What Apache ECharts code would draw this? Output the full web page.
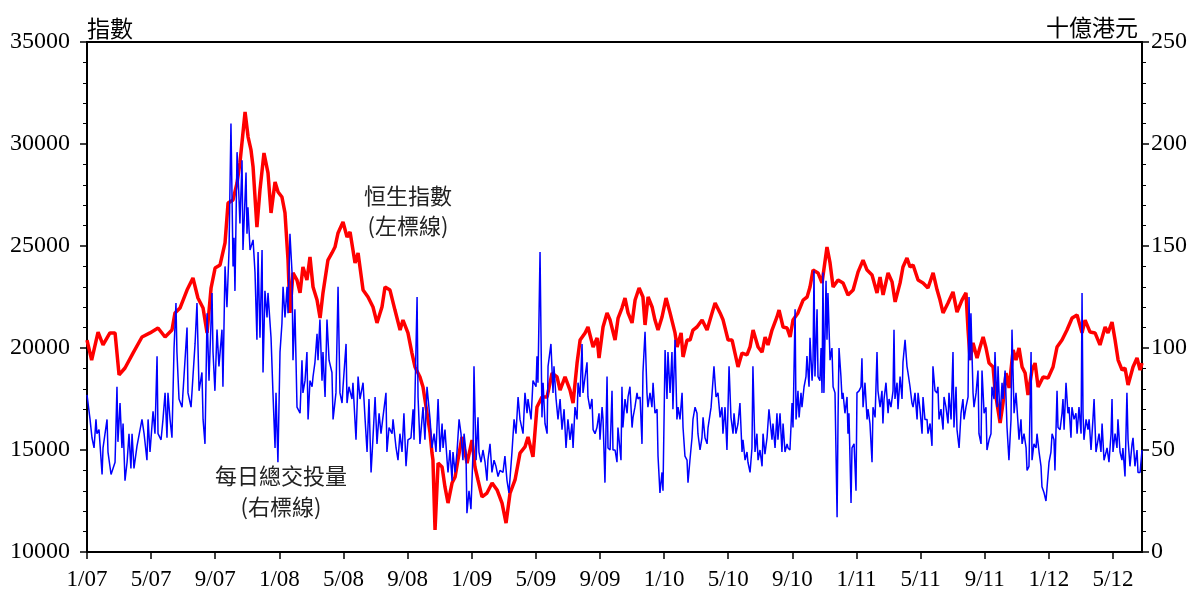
<!DOCTYPE html>
<html>
<head>
<meta charset="utf-8">
<script src="https://cdn.jsdelivr.net/npm/echarts@6/dist/echarts.min.js"></script>
<style>
  html, body { margin: 0; padding: 0; background: #fff; }
  #chart { width: 1196px; height: 595px; }
</style>
</head>
<body>
<div id="chart"></div>
<script>
// x values are months since 1 Jan 2007

// 恒生指數 (left axis)
const hsiMonths = [0,0.29,0.69,1.0,1.43,1.75,2.0,2.37,2.87,3.43,3.93,4.43,4.87,5.3,5.49,5.8,6.24,6.61,6.92,7.24,7.49,7.74,7.99,8.3,8.61,8.8,9.11,9.36,9.54,9.86,10.05,10.23,10.36,10.6,10.79,11.04,11.29,11.48,11.73,11.92,12.16,12.35,12.54,12.66,12.85,13.1,13.29,13.47,13.72,13.91,14.1,14.35,14.54,14.72,15.03,15.28,15.47,15.66,15.97,16.22,16.41,16.72,16.91,17.22,17.53,17.84,18.09,18.4,18.59,18.9,19.21,19.53,19.71,20.02,20.27,20.46,20.77,20.96,21.21,21.4,21.52,21.58,21.71,21.9,22.15,22.33,22.52,22.77,22.96,23.14,23.39,23.71,24.02,24.2,24.39,24.64,24.95,25.27,25.58,25.89,26.14,26.39,26.7,27.01,27.32,27.51,27.82,28.07,28.38,28.7,29.01,29.32,29.51,29.82,30.13,30.32,30.57,30.76,31.07,31.25,31.57,31.82,31.94,32.19,32.44,32.63,32.94,33.13,33.37,33.56,33.75,34.0,34.19,34.44,34.68,34.81,35.0,35.25,35.43,35.62,35.87,36.12,36.37,36.68,36.81,37.06,37.18,37.43,37.62,37.8,38.05,38.37,38.68,38.99,39.18,39.49,39.68,39.99,40.24,40.42,40.61,40.86,41.17,41.36,41.55,41.86,42.11,42.3,42.48,42.73,43.04,43.17,43.42,43.67,43.86,44.04,44.35,44.67,44.92,45.1,45.29,45.6,45.85,46.16,46.35,46.54,46.85,47.16,47.47,47.79,48.1,48.41,48.66,48.97,49.28,49.47,49.66,49.97,50.22,50.41,50.72,50.9,51.15,51.34,51.53,51.84,52.15,52.46,52.78,53.03,53.21,53.4,53.71,54.02,54.27,54.58,54.83,54.96,55.09,55.27,55.52,55.71,55.9,56.08,56.27,56.52,56.64,56.83,56.96,57.14,57.33,57.52,57.77,57.95,58.14,58.33,58.52,58.7,58.95,59.14,59.33,59.64,59.95,60.26,60.51,60.82,61.13,61.45,61.76,62.07,62.26,62.57,62.88,63.19,63.51,63.69,63.94,64.13,64.32,64.57,64.75,64.94,65.25,65.5,65.69,65.81];
const hsiValues = [20390,19410,20780,20150,20740,20740,18680,19020,19750,20540,20740,20980,20540,20880,21720,21960,22840,23430,22450,21960,20740,22940,23920,24070,25150,27110,27260,28090,29070,31570,30340,29710,28870,25930,27750,29560,28580,26620,28140,27650,27400,26620,24310,21720,23680,23330,22700,23970,23330,24460,22990,22350,21470,22700,24310,24660,24950,25640,26180,25440,25690,24170,24660,22840,22500,22010,21230,22010,22990,22840,21860,20880,21370,20740,19750,19070,18580,18090,16810,15830,14850,14510,11080,14360,14170,13190,12400,13380,13680,14510,15640,14360,15490,14170,13530,12700,12890,13380,13040,12400,11420,12890,13530,14850,15150,15640,14660,17110,17600,17600,18770,18580,17940,18580,17940,17300,19260,20390,20740,21030,20050,20490,19510,21030,21720,21370,20390,21470,21960,22450,21720,21230,22350,22940,22500,21130,22500,22010,21370,20880,21520,22450,21720,20740,20050,20740,19560,20390,20390,20880,21030,21370,20880,21720,22210,21720,21370,20390,20390,19750,19070,19750,19660,20050,20880,20050,19800,20540,20150,20880,21520,21860,21030,20980,20540,21370,21720,22350,22500,22990,23820,23680,23190,24950,24170,22990,23330,23190,22600,22840,23730,24310,23820,23580,22700,23480,22600,23680,23240,22260,23190,23970,24410,23970,24070,23330,23190,22940,23680,22840,22350,21720,22210,22750,21760,22350,22700,20880,19410,20250,19510,20050,20540,20000,19260,19070,17940,16960,16320,17300,18770,18040,19900,19410,20000,19070,18770,17700,18920,19260,18090,18580,18530,19070,20050,20390,20880,21470,21620,20740,21370,20780,20740,20150,21030,20740,21270,20390,19410,18920,19020,18190,19070,19510,18920,19260];

// 每日總交投量, 十億港元 (right axis)
const turnoverMonths = [0,0.19,0.31,0.44,0.56,0.62,0.75,0.94,1.0,1.25,1.31,1.5,1.62,1.75,1.87,1.93,2.06,2.18,2.25,2.37,2.5,2.62,2.74,2.81,2.93,3.12,3.31,3.43,3.56,3.74,3.81,3.93,4.12,4.24,4.37,4.43,4.62,4.74,4.87,4.99,5.05,5.18,5.3,5.43,5.55,5.61,5.74,5.93,6.05,6.24,6.3,6.49,6.61,6.74,6.86,6.99,7.17,7.24,7.36,7.49,7.61,7.8,7.86,7.98,8.11,8.23,8.42,8.48,8.61,8.73,8.86,8.98,9.11,9.17,9.23,9.36,9.42,9.54,9.67,9.73,9.92,9.98,10.04,10.17,10.36,10.48,10.6,10.67,10.79,10.92,10.98,11.1,11.23,11.29,11.48,11.6,11.73,11.79,11.91,12.04,12.16,12.23,12.35,12.48,12.54,12.66,12.79,12.85,12.97,13.1,13.29,13.41,13.47,13.6,13.72,13.79,13.91,14.04,14.1,14.22,14.35,14.41,14.53,14.66,14.72,14.85,14.97,15.1,15.28,15.35,15.53,15.66,15.78,15.91,15.97,16.16,16.22,16.34,16.53,16.59,16.78,16.91,17.03,17.22,17.34,17.47,17.59,17.72,17.84,17.97,18.09,18.22,18.34,18.46,18.65,18.71,18.84,19.03,19.09,19.28,19.4,19.52,19.65,19.77,19.9,20.02,20.21,20.34,20.4,20.59,20.65,20.77,20.96,21.08,21.21,21.4,21.52,21.65,21.77,21.9,22.02,22.15,22.21,22.33,22.46,22.52,22.64,22.77,22.83,22.96,23.08,23.21,23.33,23.45,23.52,23.64,23.7,23.83,23.95,24.08,24.14,24.27,24.39,24.45,24.58,24.7,24.83,24.95,25.01,25.14,25.26,25.39,25.51,25.64,25.76,25.95,26.07,26.2,26.32,26.51,26.64,26.76,26.89,27.01,27.2,27.32,27.45,27.51,27.7,27.82,28.01,28.07,28.13,28.26,28.38,28.45,28.57,28.7,28.76,28.94,29.07,29.13,29.26,29.38,29.51,29.63,29.76,29.88,30.0,30.13,30.25,30.32,30.44,30.57,30.63,30.75,30.88,30.94,31.07,31.19,31.25,31.38,31.5,31.57,31.69,31.81,31.94,32.0,32.13,32.19,32.31,32.44,32.5,32.63,32.75,32.81,32.94,33.06,33.12,33.31,33.37,33.43,33.56,33.69,33.75,33.87,34.0,34.06,34.18,34.31,34.37,34.5,34.62,34.68,34.81,34.93,34.99,35.12,35.24,35.31,35.43,35.56,35.62,35.74,35.87,35.93,36.06,36.18,36.24,36.37,36.49,36.55,36.68,36.8,36.87,36.99,37.12,37.18,37.3,37.43,37.49,37.61,37.74,37.8,37.93,38.05,38.11,38.24,38.36,38.43,38.55,38.68,38.74,38.93,39.05,39.11,39.24,39.36,39.49,39.61,39.67,39.8,39.92,40.05,40.17,40.3,40.36,40.48,40.61,40.73,40.86,40.92,41.05,41.17,41.23,41.36,41.48,41.54,41.67,41.79,41.86,41.98,42.11,42.17,42.29,42.42,42.54,42.73,42.79,42.92,43.04,43.1,43.23,43.35,43.42,43.54,43.67,43.73,43.85,43.98,44.04,44.17,44.23,44.35,44.42,44.54,44.6,44.73,44.85,44.91,45.04,45.1,45.23,45.29,45.35,45.41,45.54,45.6,45.72,45.79,45.85,45.91,45.97,46.1,46.16,46.22,46.35,46.47,46.54,46.66,46.79,46.85,46.91,47.03,47.1,47.16,47.28,47.41,47.47,47.53,47.66,47.72,47.85,47.97,48.03,48.16,48.28,48.34,48.41,48.53,48.66,48.72,48.84,48.97,49.03,49.16,49.28,49.34,49.47,49.59,49.65,49.72,49.84,49.97,50.03,50.15,50.28,50.34,50.4,50.53,50.59,50.72,50.84,50.9,51.03,51.15,51.21,51.34,51.46,51.53,51.65,51.78,51.84,51.96,52.09,52.15,52.27,52.4,52.46,52.59,52.71,52.77,52.9,53.02,53.08,53.15,53.27,53.4,53.46,53.58,53.71,53.77,53.9,54.02,54.08,54.21,54.27,54.4,54.52,54.64,54.71,54.83,54.96,55.02,55.08,55.14,55.27,55.33,55.46,55.58,55.64,55.77,55.83,55.96,56.08,56.14,56.27,56.39,56.45,56.58,56.64,56.77,56.83,56.95,57.08,57.14,57.27,57.39,57.51,57.64,57.7,57.83,57.95,58.01,58.14,58.26,58.33,58.45,58.58,58.64,58.76,58.89,58.95,59.07,59.2,59.26,59.39,59.51,59.57,59.7,59.82,59.89,60.01,60.13,60.2,60.32,60.38,60.51,60.57,60.7,60.82,60.88,60.95,61.07,61.19,61.26,61.38,61.44,61.57,61.69,61.76,61.88,62.01,62.07,62.13,62.19,62.32,62.44,62.51,62.63,62.75,62.82,62.94,63.13,63.25,63.32,63.44,63.57,63.63,63.75,63.88,63.94,64.0,64.13,64.25,64.31,64.44,64.56,64.62,64.75,64.87,64.94,65.06,65.19,65.25,65.37,65.5,65.56,65.69,65.81];
const turnoverValues = [77,65,56,51,65,58,60,38,51,65,49,38,38,44,81,54,73,51,63,35,44,58,41,58,41,52,60,65,58,45,65,49,69,58,96,58,55,65,78,56,78,65,56,100,122,98,75,71,86,110,78,71,86,102,122,79,88,65,53,117,84,127,98,79,109,91,109,81,140,120,148,210,140,154,128,196,186,161,192,148,186,156,169,148,153,137,104,147,105,148,88,128,115,127,105,78,51,78,44,98,112,130,115,130,117,156,137,94,119,71,68,94,78,84,98,65,84,81,86,93,107,94,114,84,98,76,114,94,88,65,78,130,78,73,81,102,73,81,75,83,55,86,75,83,66,49,75,39,56,76,53,68,58,66,78,49,61,58,65,51,45,58,49,68,42,55,56,70,55,125,76,53,71,55,81,65,51,58,49,75,49,63,51,60,45,39,50,35,49,39,49,65,58,45,58,49,19,30,21,49,91,45,66,49,44,50,44,35,45,53,39,45,42,37,40,39,47,35,29,49,65,58,76,65,58,78,68,75,65,84,81,96,83,147,66,83,63,58,91,102,78,91,75,65,75,60,70,51,65,55,63,51,71,65,83,76,102,78,86,93,76,70,75,60,58,61,68,55,71,65,34,86,51,50,79,50,50,44,61,45,81,61,75,68,76,81,61,66,71,78,75,76,53,88,108,78,71,78,71,83,68,70,47,29,39,30,99,75,98,78,98,70,104,65,71,65,78,61,47,45,34,45,56,65,71,68,58,50,56,66,56,53,61,71,71,91,76,78,66,71,58,71,50,91,66,58,68,58,63,73,49,55,45,49,44,39,51,91,49,58,45,50,42,58,48,56,70,55,63,51,68,55,68,49,63,49,53,51,50,73,61,119,65,79,66,78,71,81,86,96,81,105,84,94,138,86,119,86,84,100,78,137,78,133,104,127,94,100,81,78,17,66,100,86,75,78,68,76,58,68,24,51,53,30,78,79,81,95,71,83,65,70,63,44,71,66,98,79,71,79,63,75,83,68,75,71,79,109,75,83,70,86,75,93,104,91,88,81,73,71,78,65,78,70,58,76,65,65,58,63,52,91,79,78,81,65,70,60,76,71,63,78,65,98,61,81,60,51,68,75,65,71,76,125,94,117,78,71,78,89,58,53,89,68,71,50,55,58,81,75,98,71,91,65,83,75,89,61,45,65,109,68,78,71,55,65,53,58,51,40,42,98,45,53,51,58,49,42,32,29,25,32,44,49,58,55,40,79,61,60,68,75,60,83,68,71,56,71,65,68,58,71,58,127,68,55,65,60,65,50,65,75,49,58,49,63,45,49,51,44,58,75,49,58,51,65,49,45,51,37,78,55,42,53,56,42,50,39,39,50];

const xTickMonths = [0, 4, 8, 12, 16, 20, 24, 28, 32, 36, 40, 44, 48, 52, 56, 60, 64];
const xTickLabels = ['1/07', '5/07', '9/07', '1/08', '5/08', '9/08', '1/09', '5/09', '9/09', '1/10', '5/10', '9/10', '1/11', '5/11', '9/11', '1/12', '5/12'];

const numFont = '"Liberation Serif", "Times New Roman", serif';
const cjkFont = '"Noto Sans CJK TC", "Noto Sans CJK SC", sans-serif';

const hsiData = hsiMonths.map((m, i) => [m, hsiValues[i]]);
const turnoverData = turnoverMonths.map((m, i) => [m, turnoverValues[i]]);

const chart = echarts.init(document.getElementById('chart'));

const tickLabel = {
  fontFamily: numFont,
  fontSize: 24,
  color: '#000',
  formatter: v => String(v)
};

const option = {
  animation: false,
  backgroundColor: '#fff',
  grid: {
    left: 87,
    right: 54,
    top: 42,
    bottom: 43,
    show: true,
    borderColor: '#000',
    borderWidth: 2
  },
  xAxis: {
    type: 'value',
    min: 0,
    max: 65.81,
    interval: 4,
    axisLine: { onZero: false, lineStyle: { color: '#000', width: 2 } },
    axisTick: {
      length: 7,
      customValues: xTickMonths,
      lineStyle: { color: '#000', width: 1.5 }
    },
    axisLabel: Object.assign({}, tickLabel, {
      fontSize: 23,
      margin: 16,
      customValues: xTickMonths,
      formatter: v => {
        const i = xTickMonths.indexOf(Math.round(v));
        return i >= 0 ? xTickLabels[i] : '';
      }
    }),
    splitLine: { show: false }
  },
  yAxis: [
    {
      type: 'value',
      position: 'left',
      min: 10000,
      max: 35000,
      interval: 5000,
      axisLine: { show: true, lineStyle: { color: '#000', width: 2 } },
      axisTick: { show: true, length: 7, lineStyle: { color: '#000', width: 1.5 } },
      minorTick: { show: true, splitNumber: 5, length: 4, lineStyle: { color: '#000', width: 1 } },
      axisLabel: Object.assign({}, tickLabel, { margin: 17 }),
      splitLine: { show: false }
    },
    {
      type: 'value',
      position: 'right',
      min: 0,
      max: 250,
      interval: 50,
      axisLine: { show: true, lineStyle: { color: '#000', width: 2 } },
      axisTick: { show: true, length: 7, lineStyle: { color: '#000', width: 1.5 } },
      minorTick: { show: true, splitNumber: 5, length: 4, lineStyle: { color: '#000', width: 1 } },
      axisLabel: Object.assign({}, tickLabel, { margin: 9 }),
      splitLine: { show: false }
    }
  ],
  series: [
    {
      name: '恒生指數',
      type: 'line',
      yAxisIndex: 0,
      data: hsiData,
      showSymbol: false,
      lineStyle: { color: '#ff0000', width: 3.5 },
      itemStyle: { color: '#ff0000' }
    },
    {
      name: '每日總交投量',
      type: 'line',
      yAxisIndex: 1,
      data: turnoverData,
      showSymbol: false,
      lineStyle: { color: '#0000ff', width: 1.5 },
      itemStyle: { color: '#0000ff' }
    }
  ],
  graphic: [
    {
      type: 'text', x: 87, y: 28,
      style: { text: '指數', font: '23px ' + cjkFont, fill: '#000', textAlign: 'left', textVerticalAlign: 'middle' }
    },
    {
      type: 'text', x: 1138, y: 27,
      style: { text: '十億港元', font: '23px ' + cjkFont, fill: '#000', textAlign: 'right', textVerticalAlign: 'middle' }
    },
    {
      type: 'text', x: 408, y: 196,
      style: { text: '恒生指數', font: '22px ' + cjkFont, fill: '#222', textAlign: 'center', textVerticalAlign: 'middle' }
    },
    {
      type: 'text', x: 408, y: 226,
      style: { text: '(左標線)', font: '22px ' + cjkFont, fill: '#222', textAlign: 'center', textVerticalAlign: 'middle' }
    },
    {
      type: 'text', x: 281, y: 476,
      style: { text: '每日總交投量', font: '22px ' + cjkFont, fill: '#222', textAlign: 'center', textVerticalAlign: 'middle' }
    },
    {
      type: 'text', x: 281, y: 507,
      style: { text: '(右標線)', font: '22px ' + cjkFont, fill: '#222', textAlign: 'center', textVerticalAlign: 'middle' }
    }
  ]
};

chart.setOption(option);
</script>
</body>
</html>
